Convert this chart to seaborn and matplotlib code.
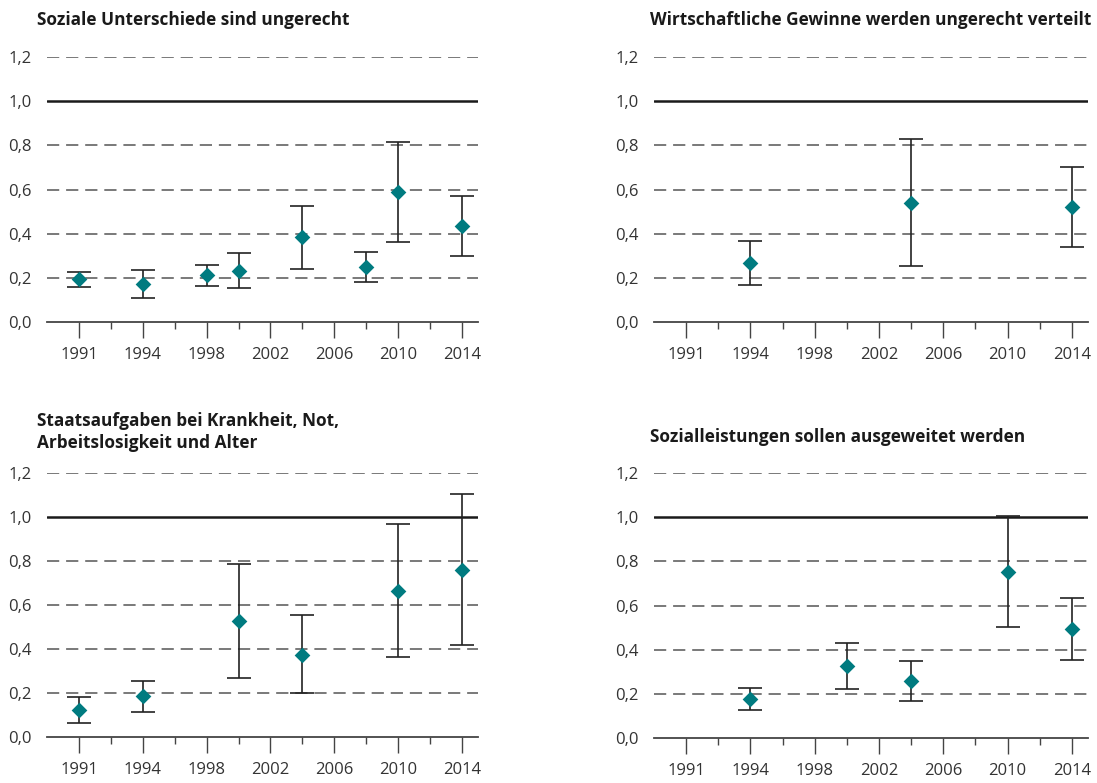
import numpy as np
import pandas as pd
import seaborn as sns
import matplotlib as mpl
mpl.use('Agg')
import matplotlib.pyplot as plt
import matplotlib.ticker as mticker

# category slots on the x axis (equally spaced, not a true time scale)
slots = [1991, 1992, 1994, 1996, 1998, 2000, 2002, 2004, 2006, 2008, 2010, 2012, 2014]
tick_years = [1991, 1994, 1998, 2002, 2006, 2010, 2014]

# panel 1: Soziale Unterschiede sind ungerecht
years_1 = [1991, 1994, 1998, 2000, 2004, 2008, 2010, 2014]
mean_1 = [0.195, 0.171, 0.213, 0.233, 0.384, 0.251, 0.590, 0.435]
lo_1 = [0.160, 0.107, 0.165, 0.154, 0.240, 0.183, 0.364, 0.299]
hi_1 = [0.227, 0.234, 0.260, 0.313, 0.526, 0.316, 0.816, 0.570]

# panel 2: Wirtschaftliche Gewinne werden ungerecht verteilt
years_2 = [1994, 2004, 2014]
mean_2 = [0.267, 0.539, 0.520]
lo_2 = [0.168, 0.254, 0.340]
hi_2 = [0.369, 0.829, 0.700]

# panel 3: Staatsaufgaben bei Krankheit, Not, Arbeitslosigkeit und Alter
years_3 = [1991, 1994, 2000, 2004, 2010, 2014]
mean_3 = [0.121, 0.187, 0.529, 0.373, 0.665, 0.760]
lo_3 = [0.063, 0.113, 0.269, 0.198, 0.363, 0.418]
hi_3 = [0.180, 0.255, 0.787, 0.553, 0.968, 1.103]

# panel 4: Sozialleistungen sollen ausgeweitet werden
years_4 = [1994, 2000, 2004, 2010, 2014]
mean_4 = [0.175, 0.326, 0.258, 0.752, 0.492]
lo_4 = [0.127, 0.224, 0.168, 0.503, 0.355]
hi_4 = [0.227, 0.430, 0.349, 1.006, 0.633]

titles = ['Soziale Unterschiede sind ungerecht',
          'Wirtschaftliche Gewinne werden ungerecht verteilt',
          'Staatsaufgaben bei Krankheit, Not,\nArbeitslosigkeit und Alter',
          'Sozialleistungen sollen ausgeweitet werden']

panels = [(years_1, mean_1, lo_1, hi_1), (years_2, mean_2, lo_2, hi_2),
          (years_3, mean_3, lo_3, hi_3), (years_4, mean_4, lo_4, hi_4)]

TEAL = '#007b80'
BAR = '#222222'
GRID = '#555555'

sns.set_theme(style='white')
plt.rcParams['font.family'] = ['Open Sans', 'DejaVu Sans']

W, H = 1097, 783
fig = plt.figure(figsize=(W / 100, H / 100), dpi=100)

# axes boxes in pixels: left, right, top (y=1.2), bottom (y=0)
boxes = [(47, 478, 57, 322), (654, 1088, 57, 322),
         (47, 478, 473, 737), (654, 1088, 473, 738)]
# title anchor: x, y of text center (pixels)
title_pos = [(37, 20), (650, 20), (37, 432), (650, 437)]


def make_panel(ax, years, mean, lo, hi):
    df = pd.DataFrame({'year': years, 'mean': mean, 'lo': lo, 'hi': hi})
    df['pos'] = [slots.index(y) for y in df['year']]

    # grid lines
    for g in [0.2, 0.4, 0.6, 0.8, 1.2]:
        ax.axhline(g, color=GRID, lw=1.1, dashes=(8, 4.5), zorder=1)
    ax.axhline(1.0, color='#1a1a1a', lw=1.8, zorder=1)

    ax.errorbar(df['pos'], df['mean'],
                yerr=[df['mean'] - df['lo'], df['hi'] - df['mean']],
                fmt='none', ecolor=BAR, elinewidth=1.2, capsize=8.6,
                capthick=1.2, zorder=2, clip_on=False)
    sns.scatterplot(data=df, x='pos', y='mean', marker='D', s=64,
                    color=TEAL, linewidth=0, ax=ax, zorder=3, clip_on=False)

    ax.set_xlim(-1, 12.5)
    ax.set_ylim(0, 1.2)
    ax.set_xlabel('')
    ax.set_ylabel('')

    for side in ['top', 'right', 'left']:
        ax.spines[side].set_visible(False)
    ax.spines['bottom'].set_color('#444444')
    ax.spines['bottom'].set_linewidth(1.3)

    major = [slots.index(y) for y in tick_years]
    minor = [i for i in range(len(slots)) if i not in major]
    ax.xaxis.set_major_locator(mticker.FixedLocator(major))
    ax.xaxis.set_minor_locator(mticker.FixedLocator(minor))
    ax.set_xticklabels([str(y) for y in tick_years])
    ax.tick_params(axis='x', which='major', direction='out', length=11.5,
                   width=1.0, color='#444444', pad=6.5, labelsize=12,
                   labelcolor='#333333', bottom=True)
    ax.tick_params(axis='x', which='minor', direction='out', length=5,
                   width=1.0, color='#444444', bottom=True)

    ax.yaxis.set_major_locator(mticker.FixedLocator([0, 0.2, 0.4, 0.6, 0.8, 1.0, 1.2]))
    ax.yaxis.set_major_formatter(mticker.FuncFormatter(lambda v, p: '{:.1f}'.format(v).replace('.', ',')))
    ax.tick_params(axis='y', length=0, pad=11, labelsize=12, labelcolor='#333333')
    ax.grid(False)


for i, (box, data) in enumerate(zip(boxes, panels)):
    l, r, t, b = box
    ax = fig.add_axes([l / W, 1 - b / H, (r - l) / W, (b - t) / H])
    make_panel(ax, *data)
    tx, ty = title_pos[i]
    fig.text(tx / W, 1 - ty / H, titles[i], ha='left', va='center',
             fontsize=12.4, fontweight='bold', color='#1a1a1a', linespacing=1.3)

fig.savefig('out.png', dpi=100)
